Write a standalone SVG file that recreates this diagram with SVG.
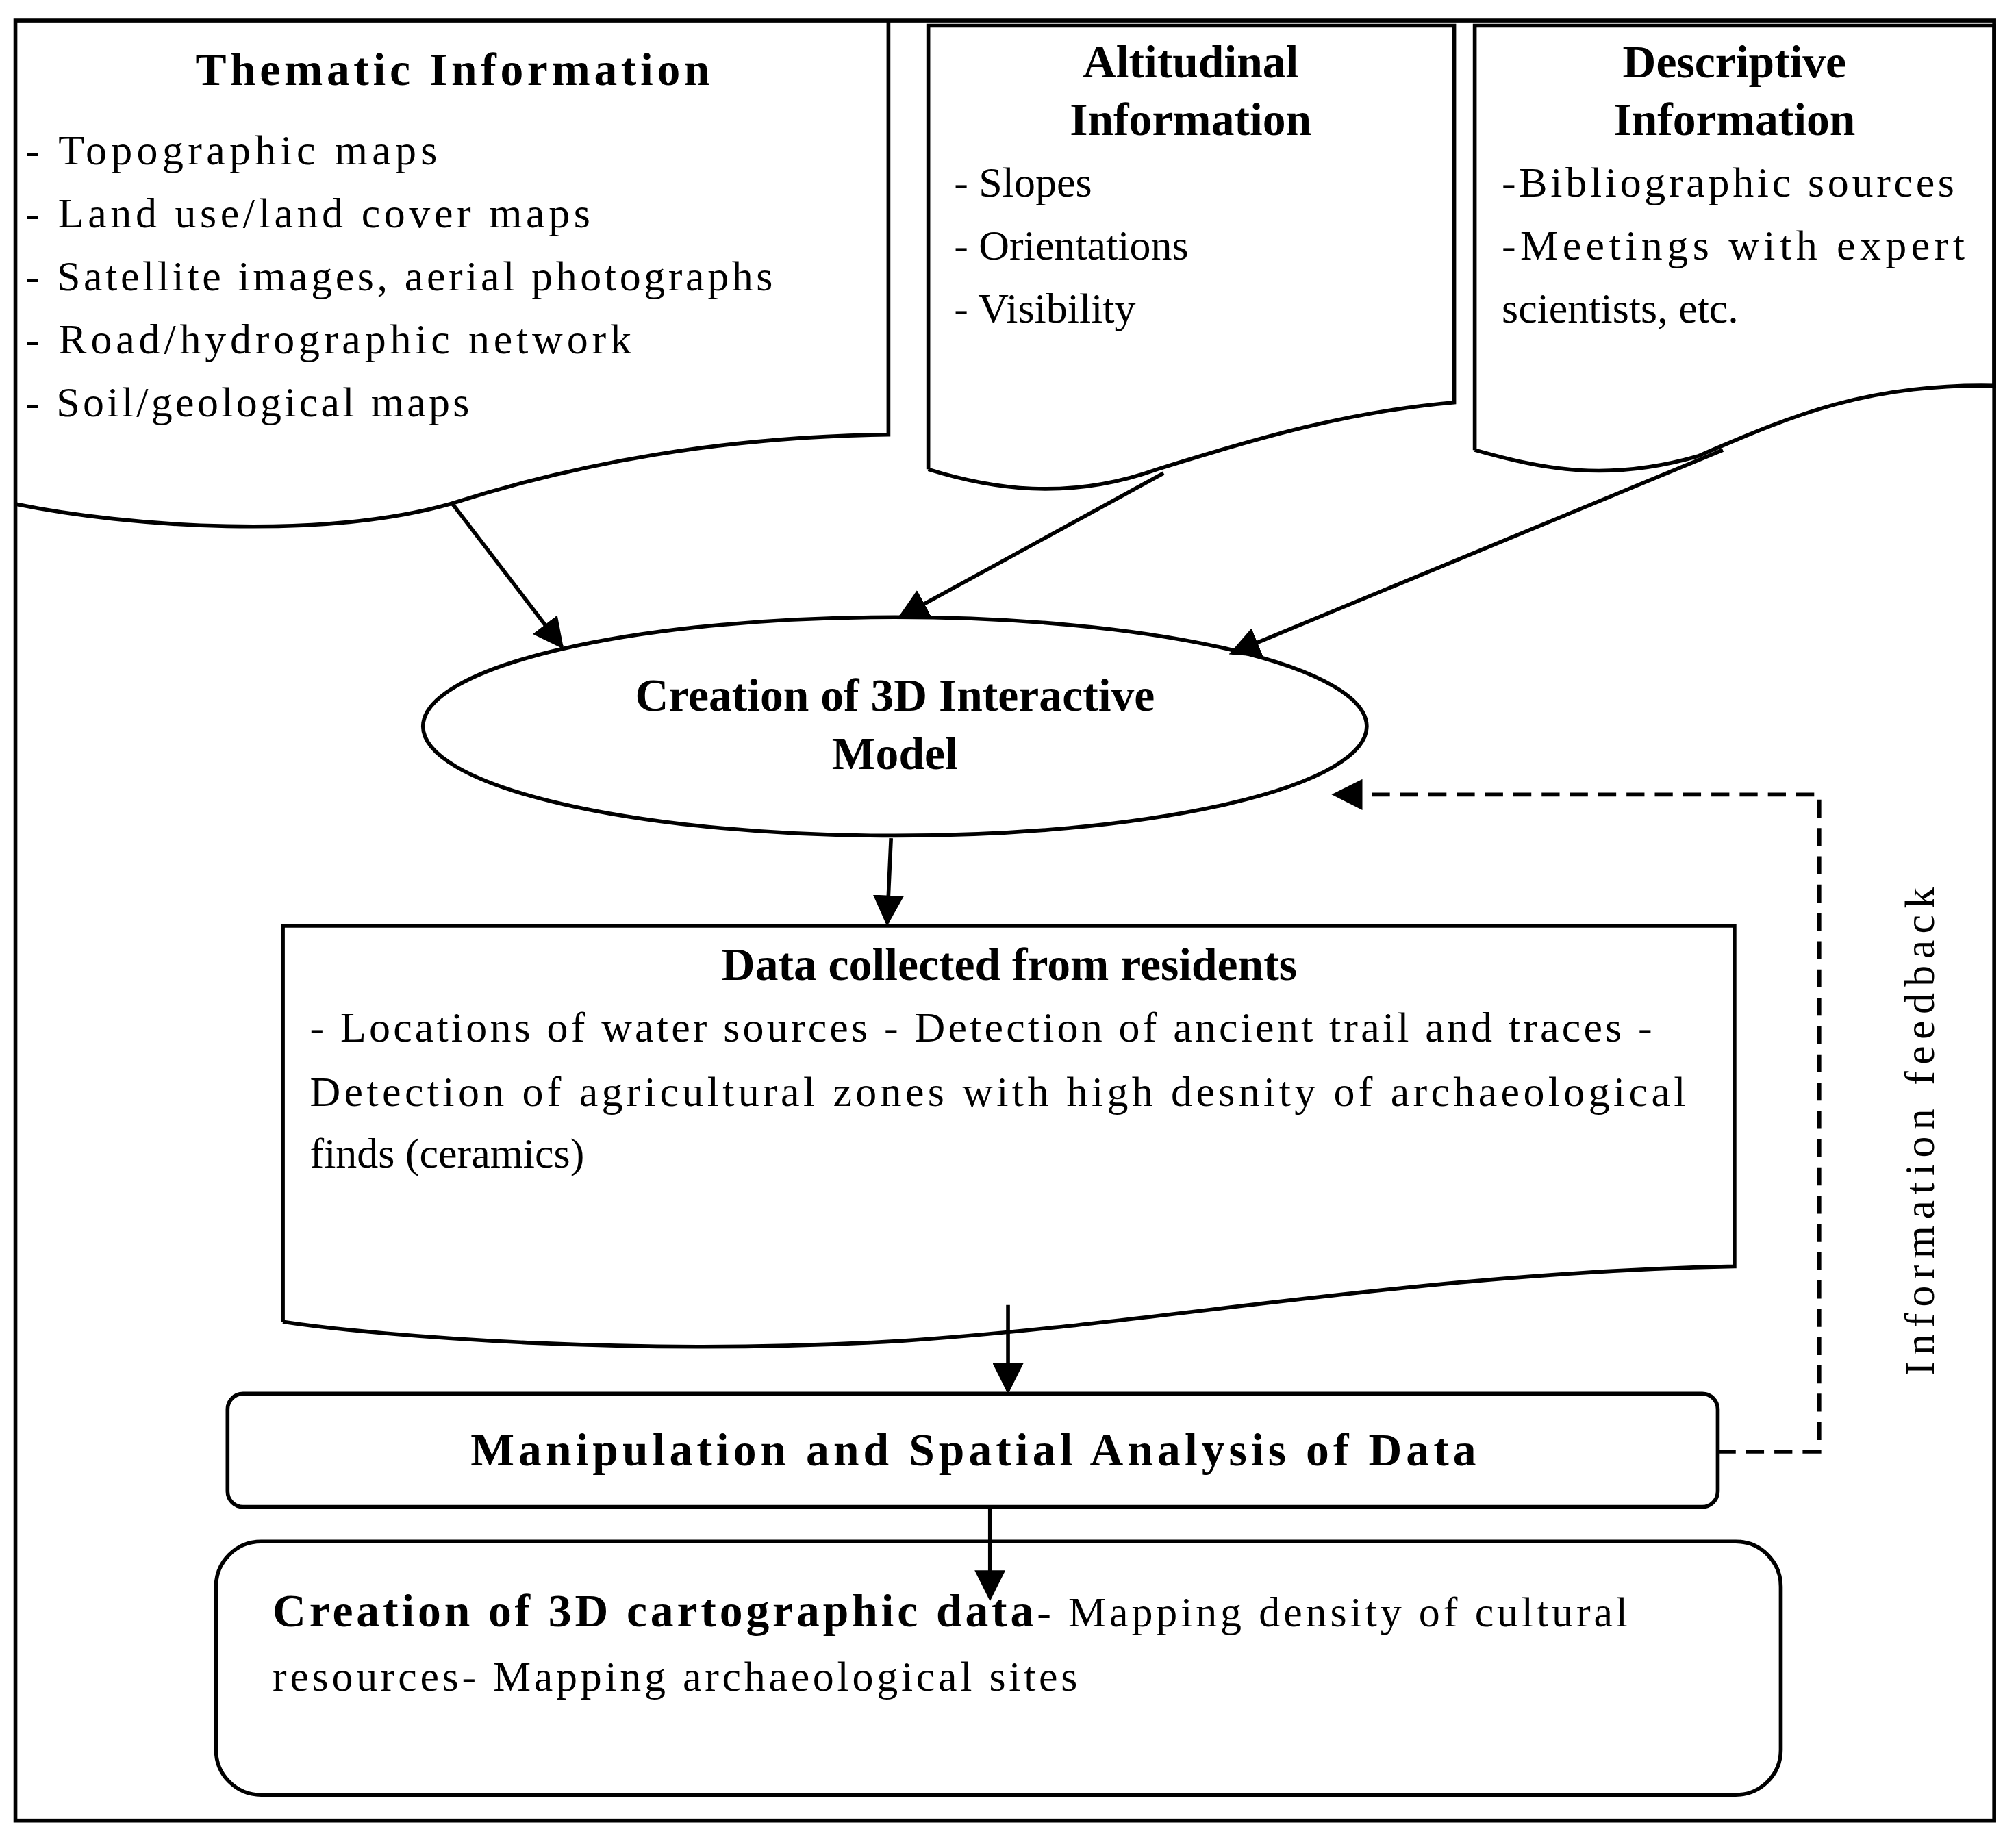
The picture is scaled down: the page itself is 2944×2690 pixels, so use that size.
<svg xmlns="http://www.w3.org/2000/svg" width="2944" height="2690" viewBox="0 0 2944 2690">
<style>
.s{fill:none;stroke:#000;stroke-width:3}
.t{font-family:"Liberation Serif",serif;font-size:33px;fill:#000}
.b{font-family:"Liberation Serif",serif;font-size:36px;font-weight:bold;fill:#000}
.c{stroke:#000;stroke-width:3;fill:none}
</style>
<defs><marker id="a" markerWidth="8" markerHeight="8" refX="7" refY="4" orient="auto" markerUnits="userSpaceOnUse" viewBox="0 0 8 8"><path d="M0,0L8,4L0,8z" fill="#000"/></marker>
<marker id="m" viewBox="0 0 10 10" refX="9" refY="5" markerWidth="24" markerHeight="24" markerUnits="userSpaceOnUse" orient="auto"><path d="M0,0L10,5L0,10z" fill="#000"/></marker></defs>
<rect width="2944" height="2690" fill="#fff"/>
<g transform="scale(1.8776)">
<rect x="12" y="16" width="1539" height="1400" class="s"/>
<g id="thematic">
<path class="s" d="M691,16 L691,338 C560,340 450,360 350,392 C250,420 100,410 12,392"/>
<text class="b" x="352" y="66" text-anchor="middle" textLength="400">Thematic Information</text>
<text class="t" x="20" y="128" textLength="320">- Topographic maps</text>
<text class="t" x="20" y="177" textLength="439">- Land use/land cover maps</text>
<text class="t" x="20" y="226" textLength="581">- Satellite images, aerial photographs</text>
<text class="t" x="20" y="275" textLength="471">- Road/hydrographic network</text>
<text class="t" x="20" y="324" textLength="345">- Soil/geological maps</text>
</g>
<g id="altitudinal">
<path class="s" d="M722,365 L722,20 L1131,20 L1131,313 C1050,320 980,340 900,365 C830,390 770,380 722,365"/>
<text class="b" x="926" y="60" text-anchor="middle">Altitudinal</text>
<text class="b" x="926" y="105" text-anchor="middle">Information</text>
<text class="t" x="742" y="153">- Slopes</text>
<text class="t" x="742" y="202">- Orientations</text>
<text class="t" x="742" y="251">- Visibility</text>
</g>
<g id="descriptive">
<path class="s" d="M1147,350 L1147,20 L1551,20 L1551,300 C1450,298 1390,325 1320,355 C1250,375 1200,365 1147,350"/>
<text class="b" x="1349" y="60" text-anchor="middle">Descriptive</text>
<text class="b" x="1349" y="105" text-anchor="middle">Information</text>
<text class="t" x="1168" y="153" textLength="352">-Bibliographic sources</text>
<text class="t" x="1168" y="202" textLength="360">-Meetings  with  expert</text>
<text class="t" x="1168" y="251">scientists, etc.</text>
</g>
<g id="model">
<ellipse cx="696" cy="565" rx="367" ry="85" class="s"/>
<text class="b" x="696" y="553" text-anchor="middle">Creation of 3D Interactive</text>
<text class="b" x="696" y="598" text-anchor="middle">Model</text>
</g>
<g id="residents">
<path class="s" d="M220,1028 L220,720 L1349,720 L1349,985 C1100,990 900,1030 700,1043 C500,1055 300,1040 220,1028"/>
<text class="b" x="785" y="762" text-anchor="middle">Data collected from residents</text>
<text class="t" x="241" y="810" textLength="1044">- Locations of water sources - Detection of ancient trail and traces -</text>
<text class="t" x="241" y="860" textLength="1070">Detection of agricultural zones with high desnity of    archaeological</text>
<text class="t" x="241" y="908">finds (ceramics)</text>
</g>
<g id="manipulation">
<rect x="177" y="1084" width="1159" height="88" rx="12" class="s"/>
<text class="b" x="757" y="1140" text-anchor="middle" textLength="782">Manipulation and Spatial Analysis of Data</text>
</g>
<g id="cartographic">
<rect x="168" y="1199" width="1217" height="197" rx="35" class="s"/>
<text class="t" x="212" y="1265" textLength="1054"><tspan class="b">Creation of 3D cartographic data</tspan>- Mapping density of cultural</text>
<text class="t" x="212" y="1315" textLength="626">resources- Mapping archaeological sites</text>
</g>
<g id="connectors">
<path class="c" d="M352,392 L437,503" marker-end="url(#m)"/>
<path class="c" d="M905,368 L700,480" marker-end="url(#m)"/>
<path class="c" stroke-width="2" d="M1340,350 L958,508" marker-end="url(#m)"/>
<path class="c" stroke-width="2" d="M693,652 L690,718" marker-end="url(#m)"/>
<path class="c" stroke-width="2" d="M784,1015 L784,1082" marker-end="url(#m)"/>
<path class="c" stroke-width="2" d="M770,1172 L770,1243" marker-end="url(#m)"/>
<path class="c" stroke-width="2" stroke-dasharray="14,8" d="M1336,1129 L1415,1129 L1415,618 L1038,618" marker-end="url(#m)"/>
<text class="t" transform="translate(1504,880) rotate(-90)" text-anchor="middle" textLength="380">Information feedback</text>
</g>
</g>
</svg>
